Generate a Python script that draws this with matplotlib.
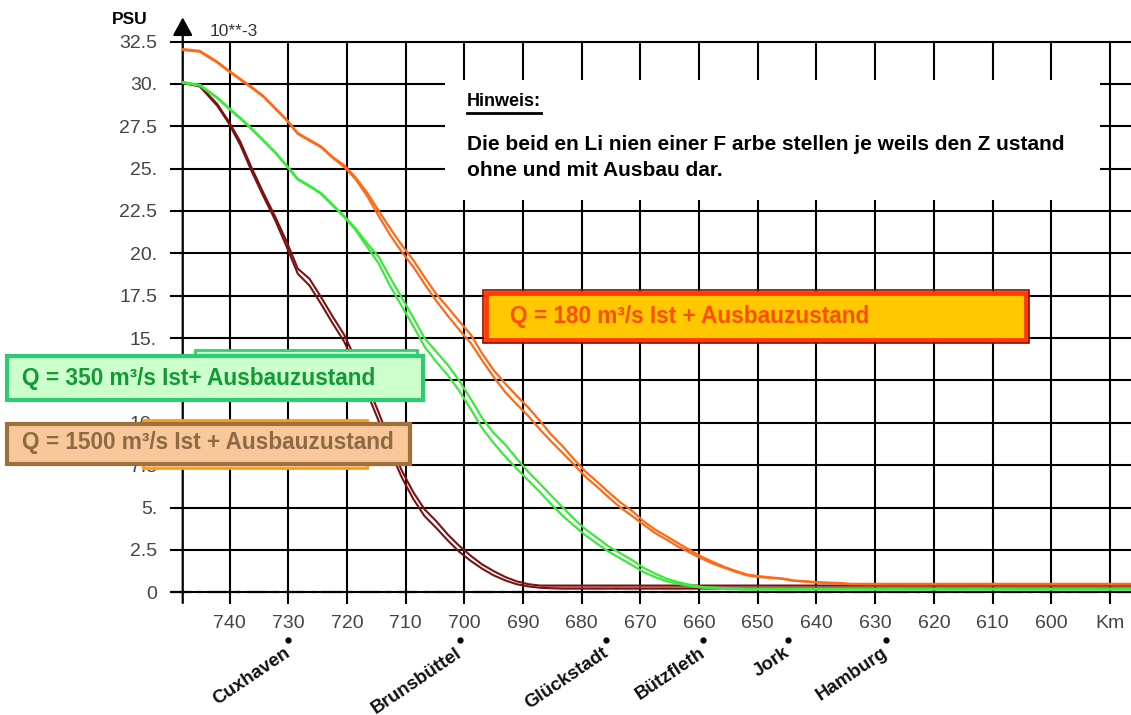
import matplotlib.pyplot as plt
import matplotlib.patches as mpatches
import matplotlib.transforms as mtransforms
import numpy as np

plt.rcParams['font.family'] = ['Liberation Sans', 'DejaVu Sans']

# Elbe-Kilometer und Salzgehalt (PSU * 10**-3)
km = [748.0, 745.1, 742.1, 740.2, 738.2, 736.2, 734.3, 732.3, 730.3, 728.4, 726.4, 724.4, 722.5,
      720.5, 718.6, 716.6, 714.6, 712.7, 710.7, 708.7, 706.8, 704.8, 702.8, 700.9, 698.9, 697.0,
      695.0, 693.0, 691.1, 689.1, 687.1, 685.2, 683.2, 681.2, 679.3, 677.3, 675.4, 673.4, 671.4,
      669.5, 667.5, 665.5, 663.6, 661.6, 659.6, 657.7, 655.7, 653.7, 651.8, 649.8, 647.8, 645.9,
      643.9, 641.9, 640.0, 638.0, 636.1, 634.1, 630.2, 620.4, 610.5, 600.7, 586.0]

q180_ist = [32.05, 31.95, 31.3, 30.8, 30.3, 29.8, 29.3, 28.6, 27.9, 27.1, 26.7, 26.3, 25.7, 25.2, 24.5,
            23.6, 22.5, 21.5, 20.5, 19.6, 18.6, 17.6, 16.8, 16.0, 15.2, 14.1, 13.1, 12.3, 11.6, 10.9,
            10.1, 9.3, 8.6, 7.8, 7.1, 6.5, 5.9, 5.3, 4.8, 4.2, 3.7, 3.3, 2.9, 2.5, 2.1,
            1.8, 1.5, 1.25, 1.05, 0.95, 0.88, 0.82, 0.7, 0.65, 0.6, 0.57, 0.55, 0.5, 0.5, 0.5,
            0.5, 0.5, 0.5]
q180_ausbau = [32.0, 31.9, 31.25, 30.75, 30.25, 29.75, 29.25, 28.55, 27.85, 27.05, 26.65, 26.25, 25.65, 25.1, 24.4,
               23.4, 22.2, 21.1, 20.1, 19.2, 18.2, 17.2, 16.3, 15.5, 14.7, 13.7, 12.7, 11.8, 11.1, 10.4,
               9.6, 8.9, 8.2, 7.5, 6.8, 6.2, 5.6, 5.0, 4.5, 4.0, 3.5, 3.1, 2.7, 2.35, 2.0,
               1.7, 1.45, 1.2, 1.0, 0.9, 0.85, 0.8, 0.68, 0.63, 0.58, 0.55, 0.52, 0.48, 0.47, 0.47,
               0.47, 0.47, 0.47]

q350_ist = [30.1, 29.95, 29.2, 28.6, 28.0, 27.35, 26.7, 26.0, 25.2, 24.4, 24.0, 23.55, 22.9, 22.2, 21.5,
            20.6, 19.8, 18.6, 17.4, 16.2, 15.0, 14.2, 13.4, 12.5, 11.4, 10.3, 9.4, 8.7, 7.9, 7.1,
            6.4, 5.7, 5.0, 4.3, 3.7, 3.2, 2.7, 2.3, 1.9, 1.45, 1.1, 0.8, 0.6, 0.45, 0.32,
            0.28, 0.25, 0.22, 0.2, 0.2, 0.2, 0.2, 0.2, 0.2, 0.2, 0.2, 0.2, 0.2, 0.2, 0.2,
            0.2, 0.2, 0.2]
q350_ausbau = [30.05, 29.9, 29.15, 28.55, 27.95, 27.3, 26.65, 25.95, 25.15, 24.35, 23.95, 23.5, 22.85, 22.15, 21.4,
               20.4, 19.4, 18.1, 16.9, 15.7, 14.5, 13.6, 12.8, 11.9, 10.8, 9.7, 8.8, 8.0, 7.3, 6.6,
               5.9, 5.2, 4.5, 3.9, 3.35, 2.85, 2.4, 2.0, 1.6, 1.2, 0.9, 0.65, 0.5, 0.38, 0.28,
               0.24, 0.2, 0.18, 0.16, 0.16, 0.16, 0.16, 0.16, 0.16, 0.16, 0.16, 0.16, 0.16, 0.16, 0.16,
               0.16, 0.16, 0.16]

q1500_ist = [30.1, 29.9, 28.8, 27.8, 26.6, 25.0, 23.6, 22.2, 20.7, 19.1, 18.5, 17.4, 16.3, 15.2, 13.8,
             12.3, 10.6, 8.9, 7.2, 5.9, 4.9, 4.2, 3.4, 2.75, 2.15, 1.65, 1.25, 0.9, 0.65, 0.48,
             0.4, 0.4, 0.4, 0.4, 0.4, 0.4, 0.4, 0.4, 0.4, 0.4, 0.4, 0.4, 0.4, 0.4, 0.4,
             0.4, 0.4, 0.4, 0.4, 0.4, 0.4, 0.4, 0.4, 0.4, 0.4, 0.4, 0.4, 0.4, 0.4, 0.4,
             0.4, 0.4, 0.4]
q1500_ausbau = [30.05, 29.85, 28.7, 27.7, 26.4, 24.8, 23.4, 22.0, 20.4, 18.8, 18.1, 17.0, 15.9, 14.8, 13.4,
                11.8, 10.1, 8.4, 6.8, 5.5, 4.5, 3.8, 3.05, 2.4, 1.85, 1.4, 1.0, 0.7, 0.48, 0.35,
                0.27, 0.24, 0.22, 0.22, 0.22, 0.22, 0.22, 0.22, 0.22, 0.22, 0.22, 0.22, 0.22, 0.22, 0.22,
                0.22, 0.22, 0.22, 0.22, 0.22, 0.22, 0.22, 0.22, 0.22, 0.22, 0.22, 0.22, 0.22, 0.22, 0.22,
                0.22, 0.22, 0.22]

yticks = [32.5, 30, 27.5, 25, 22.5, 20, 17.5, 15, 12.5, 10, 7.5, 5, 2.5, 0]
ytick_labels = ['32.5', '30.', '27.5', '25.', '22.5', '20.', '17.5', '15.', '12.5', '10.',
                '7.5', '5.', '2.5', '0']
xticks = [740, 730, 720, 710, 700, 690, 680, 670, 660, 650, 640, 630, 620, 610, 600, 590]
xtick_labels = ['740', '730', '720', '710', '700', '690', '680', '670', '660', '650',
                '640', '630', '620', '610', '600', 'Km']

orte = ['Cuxhaven', 'Brunsbüttel', 'Glückstadt', 'Bützfleth', 'Jork', 'Hamburg']
orte_km = [730.1, 700.8, 675.9, 659.4, 644.9, 628.2]

W, H = 1131, 715
fig = plt.figure(figsize=(W / 100, H / 100), dpi=100)


def fx(x):
    return x / W


def fy(y):
    return 1 - y / H


ax = fig.add_axes([fx(171), fy(603), 1 - fx(171), fy(41.5) - fy(603)])
ax.set_xlim(750, 586.4)
ax.set_ylim(-0.63, 32.5)
for s in ax.spines.values():
    s.set_visible(False)

ax.set_axisbelow(True)
ax.grid(True, color='black', lw=1.5)
for gl in ax.get_xgridlines() + ax.get_ygridlines():
    gl.set_clip_on(False)

ax.set_yticks(yticks)
ax.set_yticklabels(ytick_labels)
ax.set_xticks(xticks)
ax.set_xticklabels(xtick_labels)
ax.tick_params(axis='y', length=0, pad=10, labelsize=14, labelcolor='#444444')
ax.tick_params(axis='x', length=0, pad=8.5, labelsize=14, labelcolor='#444444')

# y-Achse mit Pfeil bei km 748
achse = mtransforms.blended_transform_factory(ax.transData, ax.transAxes)
ax.annotate('', xy=(748, 1.043), xycoords=achse, xytext=(748, 0), textcoords=achse,
            arrowprops=dict(arrowstyle='-|>,head_length=0.55,head_width=0.3',
                            mutation_scale=20, color='black', lw=1.6,
                            shrinkA=0, shrinkB=0))

# Nulllinie strichpunktiert
ax.axhline(0, color='black', lw=1.6, linestyle=(0, (9, 3, 2, 3)), zorder=1)

km_arr = np.array(km)
ax.fill_between(km, q1500_ausbau, q1500_ist, where=km_arr <= 689,
                color='#c98585', alpha=0.7, lw=0, zorder=2)
ax.plot(km, q1500_ist, color='#7a1212', lw=1.5, zorder=3)
ax.plot(km, q1500_ausbau, color='#7a1212', lw=1.5, zorder=3)
ax.plot(km, q350_ist, color='#3de83d', lw=1.6, zorder=4)
ax.plot(km, q350_ausbau, color='#3de83d', lw=1.6, zorder=4)
ax.plot(km, q180_ist, color='#ff6a17', lw=1.6, zorder=5)
ax.plot(km, q180_ausbau, color='#ff6a17', lw=1.6, zorder=5)

fig.text(fx(130), fy(20), 'PSU', fontsize=12.5, fontweight='bold', ha='center', va='center')
fig.text(fx(210), fy(31), '10**-3', fontsize=12.5, color='#333333', ha='left', va='center')

# Orte unter der Achse
ort_trans = mtransforms.blended_transform_factory(ax.transData, fig.transFigure)
ax.scatter(orte_km, [fy(640)] * len(orte), transform=ort_trans, s=12,
           color='black', clip_on=False)
for name, k in zip(orte, orte_km):
    ax.annotate(name, xy=(k, fy(640)), xycoords=ort_trans, xytext=(-3, -3),
                textcoords='offset points', ha='right', va='top', rotation=34,
                rotation_mode='anchor', fontsize=13.5, fontweight='bold', color='#111111')


def box(x0, y0, x1, y1, fc, ec, lw, z):
    r = mpatches.Rectangle((fx(x0), fy(y1)), fx(x1) - fx(x0), fy(y0) - fy(y1),
                           transform=fig.transFigure, facecolor=fc, edgecolor=ec,
                           lw=lw, zorder=z)
    fig.add_artist(r)


# Hinweis
box(445, 80, 1100, 200, 'white', 'none', 0, 10)
fig.text(fx(467), fy(102), 'Hinweis:', fontsize=13, fontweight='bold', va='center',
         zorder=11)
fig.add_artist(plt.Line2D([fx(467), fx(541)], [fy(113), fy(113)], color='black', lw=2,
                          transform=fig.transFigure, zorder=11))
fig.text(fx(467), fy(145), 'Die beid en Li nien einer F arbe stellen je weils den Z ustand',
         fontsize=15, fontweight='bold', va='center', zorder=11)
fig.text(fx(467), fy(170), 'ohne und mit Ausbau dar.', fontsize=15, fontweight='bold',
         va='center', zorder=11)

# Q = 180
box(483, 290, 1029, 343, 'none', '#8b0f00', 1.2, 12)
box(486, 293, 1026, 340, '#ffc800', '#ff3d00', 3.5, 11)
fig.text(fx(510), fy(316), 'Q = 180 m³/s Ist + Ausbauzustand', fontsize=16.3,
         fontweight='bold', color='#ff4d00', va='center', zorder=13)

# Q = 350
box(195, 350, 417, 395, '#c8f8d0', '#33cc77', 2, 11)
box(7, 356, 423, 400, '#ccffcc', '#2ecc71', 3, 12)
fig.text(fx(22), fy(378), 'Q = 350 m³/s Ist+ Ausbauzustand', fontsize=16.3,
         fontweight='bold', color='#129a34', va='center', zorder=13)

# Q = 1500
box(143, 420, 367, 468, '#ffcc99', '#ff9a1a', 2, 11)
box(7, 424, 410, 464, '#f9c89a', '#a0703c', 3, 12)
fig.text(fx(22), fy(443), 'Q = 1500 m³/s Ist + Ausbauzustand', fontsize=16.3,
         fontweight='bold', color='#8c6a44', va='center', zorder=13)

fig.savefig('out.png', dpi=100)
